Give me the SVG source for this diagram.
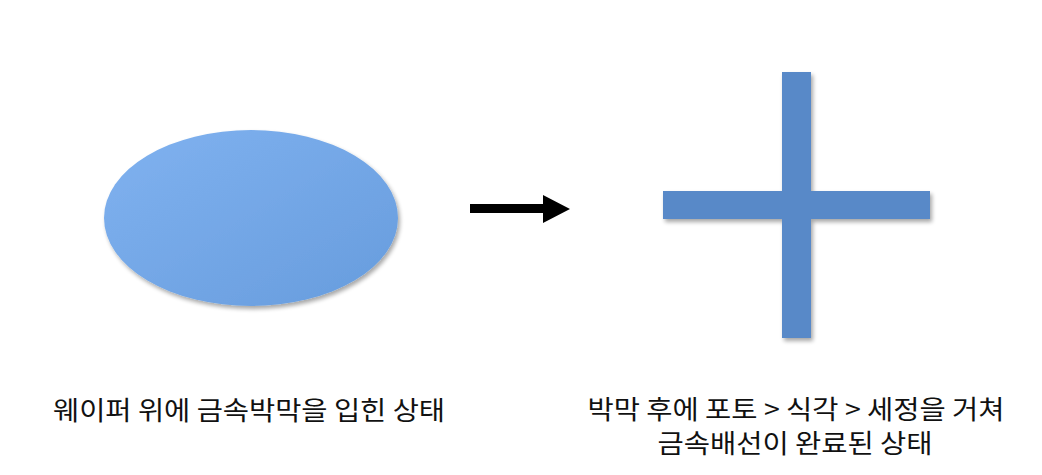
<svg xmlns="http://www.w3.org/2000/svg" width="1042" height="475" viewBox="0 0 1042 475">
<style>
.lbl{font-family:"Noto Sans CJK KR","Noto Sans",sans-serif;font-size:26px;fill:#111;text-anchor:middle}
.bar{fill:#5889c8}
</style>
<defs>
<linearGradient id="g" x1="0" y1="0" x2="1" y2="1">
<stop offset="0" stop-color="#80b2f0"/>
<stop offset="1" stop-color="#679cdd"/>
</linearGradient>
<filter id="sh" x="-10%" y="-10%" width="130%" height="130%">
<feGaussianBlur in="SourceAlpha" stdDeviation="2"/>
<feOffset dx="2" dy="3"/>
<feComponentTransfer><feFuncA type="linear" slope="0.35"/></feComponentTransfer>
<feMerge><feMergeNode/><feMergeNode in="SourceGraphic"/></feMerge>
</filter>
</defs>
<rect width="1042" height="475" fill="#fff"/>
<g id="wafer">
<ellipse cx="251" cy="218" rx="147" ry="88" fill="url(#g)" filter="url(#sh)"/>
<text class="lbl" x="249" y="420" textLength="392" lengthAdjust="spacingAndGlyphs">웨이퍼 위에 금속박막을 입힌 상태</text>
</g>
<g id="connectors">
<path d="M470 204 H543 V195 L570 209 L543 223 V213 H470 Z" fill="#000"/>
</g>
<g id="wiring">
<g filter="url(#sh)">
<rect class="bar" x="782" y="72" width="29" height="266"/>
<rect class="bar" x="663" y="191" width="267" height="28"/>
</g>
<text class="lbl" x="796" y="419" textLength="417" lengthAdjust="spacingAndGlyphs">박막 후에 포토 &gt; 식각 &gt; 세정을 거쳐</text>
<text class="lbl" x="795" y="453" textLength="275" lengthAdjust="spacingAndGlyphs">금속배선이 완료된 상태</text>
</g>
</svg>
